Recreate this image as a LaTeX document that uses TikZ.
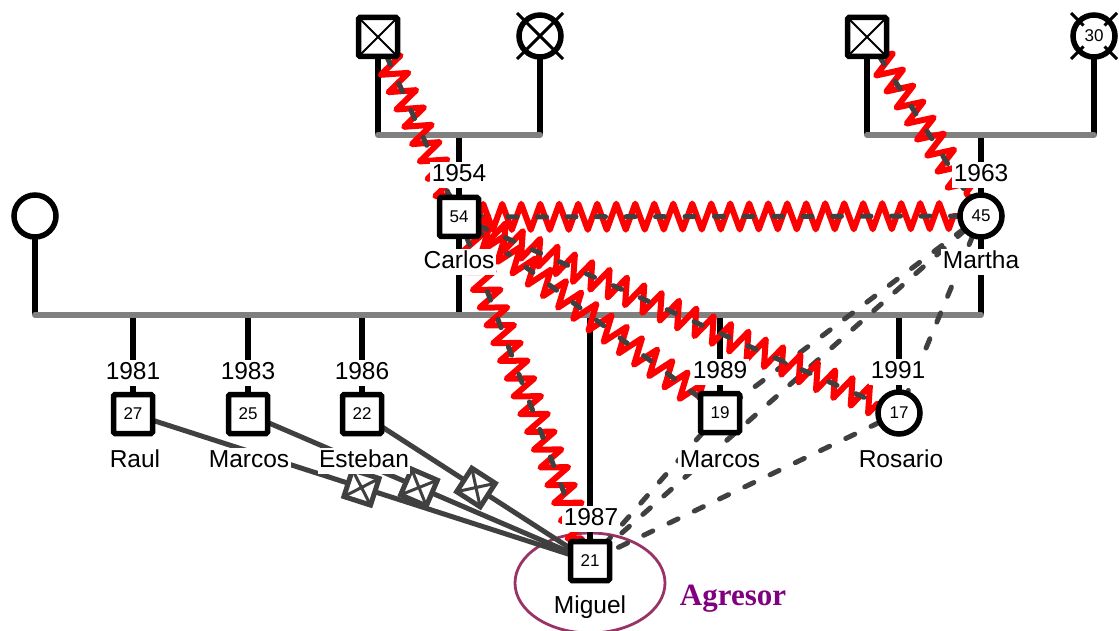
\documentclass[tikz,border=0pt]{standalone}
\usepackage{fontspec}
\setmainfont{Liberation Sans}
\newfontfamily\agrfont{Liberation Serif}
\usetikzlibrary{decorations.pathmorphing,calc}
\pgfdeclarelayer{bg}
\pgfsetlayers{bg,main}
\definecolor{genogray}{HTML}{808080}
\definecolor{relgray}{HTML}{404040}
\definecolor{hostred}{HTML}{FF0000}
\definecolor{ellcol}{HTML}{993366}
\definecolor{agrcol}{HTML}{800080}
\begin{document}
\begin{tikzpicture}[x=1pt,y=-1pt,
 male/.style={rectangle, draw=black, fill=white, line width=5.5pt, minimum size=39pt, inner sep=0pt, outer sep=0pt, rounded corners=1.5pt, font=\fontsize{17}{17}\selectfont},
 female/.style={circle, draw=black, fill=white, line width=5.5pt, minimum size=42pt, inner sep=0pt, outer sep=0pt, font=\fontsize{17}{17}\selectfont},
 lbl/.style={fill=white, inner sep=1.5pt, anchor=base, font=\fontsize{24.5}{24.5}\selectfont, text height=18pt, text depth=5pt},
 bar/.style={genogray, line width=6pt, line cap=round},
 vline/.style={black, line width=5.5pt},
 zz/.style={hostred, line width=6pt, line join=round, decorate, decoration={zigzag, segment length=19pt, amplitude=13pt}},
 zzd/.style={relgray, line width=5pt, line cap=round, dash pattern=on 9pt off 20.5pt},
 dsh/.style={relgray, line width=5pt, line cap=round, dash pattern=on 10pt off 18pt},
 cut/.style={relgray, line width=5pt},
 cutbox/.style={rectangle, draw=relgray, fill=white, line width=5pt, minimum size=28pt, inner sep=0pt, outer sep=0pt, sloped},
 thinx/.style={black, line width=2pt},
 decx/.style={black, line width=3pt}
]
\useasboundingbox (0,0) rectangle (1119,631);

% persons
\node[male] (F1) at (378,37) {};
\node[female] (GM1) at (540,36) {};
\node[male] (F2) at (867,37) {};
\node[female] (GM2) at (1094,36) {30};
\node[male] (C) at (459,217) {54};
\node[female] (Ma) at (981,216) {45};
\node[female] (W) at (35,216) {};
\node[male] (R) at (133,414) {27};
\node[male] (Mc) at (248,414) {25};
\node[male] (E) at (362,414) {22};
\node[male] (Mi) at (590,561) {21};
\node[male] (Mb) at (720,413) {19};
\node[female] (Ro) at (899,413) {17};

% deceased marks
\draw[thinx] (F1.north west) -- (F1.south east) (F1.north east) -- (F1.south west);
\draw[thinx] (F2.north west) -- (F2.south east) (F2.north east) -- (F2.south west);
\draw[decx] ($(GM1)+(-23,-23)$) -- ($(GM1)+(23,23)$) ($(GM1)+(23,-23)$) -- ($(GM1)+(-23,23)$);
\draw[decx] ($(GM2)+(-23,-23)$) -- ($(GM2)+(-10.5,-10.5)$) ($(GM2)+(23,-23)$) -- ($(GM2)+(10.5,-10.5)$)
 ($(GM2)+(-23,23)$) -- ($(GM2)+(-10.5,10.5)$) ($(GM2)+(23,23)$) -- ($(GM2)+(10.5,10.5)$);

% labels
\node[lbl] (yC) at (459,182) {1954};
\node[lbl] (nC) at (459,268) {Carlos};
\node[lbl] (yMa) at (981,182) {1963};
\node[lbl] (nMa) at (981,268) {Martha};
\node[lbl] (yR) at (133,379) {1981};
\node[lbl] (nR) at (135,467) {Raul};
\node[lbl] (yMc) at (248,379) {1983};
\node[lbl] (nMc) at (249,467) {Marcos};
\node[lbl] (yE) at (362,379) {1986};
\node[lbl] (nE) at (364,467) {Esteban};
\node[lbl] (yMi) at (591,525) {1987};
\node[lbl] (nMi) at (590,613) {Miguel};
\node[lbl] (yMb) at (720,378) {1989};
\node[lbl] (nMb) at (720,467) {Marcos};
\node[lbl] (yRo) at (898,378) {1991};
\node[lbl] (nRo) at (901,467) {Rosario};
\node[text=agrcol, font=\agrfont\bfseries\fontsize{31}{31}\selectfont, anchor=base] (agr) at (733,605) {Agresor};

% junction coordinates
\coordinate (b1L) at (378,135); \coordinate (b1R) at (540,135); \coordinate (b1C) at (459,135);
\coordinate (b2L) at (867,135); \coordinate (b2R) at (1094,135); \coordinate (b2C) at (981,135);
\coordinate (b3L) at (35,315); \coordinate (b3R) at (981,315);
\coordinate (jC) at (459,315);
\coordinate (j1) at (133,315); \coordinate (j2) at (248,315); \coordinate (j3) at (362,315);
\coordinate (j4) at (590,315); \coordinate (j5) at (720,315); \coordinate (j6) at (899,315);

\begin{pgfonlayer}{bg}
\draw[ellcol, line width=2.8pt] (590,583) ellipse [x radius=75, y radius=50];
% vertical lines
\draw[vline] (F1.center) -- (b1L);
\draw[vline] (GM1.center) -- (b1R);
\draw[vline] (b1C) -- (C.center) -- (jC);
\draw[vline] (F2.center) -- (b2L);
\draw[vline] (GM2.center) -- (b2R);
\draw[vline] (b2C) -- (Ma.center) -- (b3R);
\draw[vline] (W.center) -- (b3L);
\draw[vline] (j1) -- (R.center);
\draw[vline] (j2) -- (Mc.center);
\draw[vline] (j3) -- (E.center);
\draw[vline] (j4) -- (Mi.center);
\draw[vline] (j5) -- (Mb.center);
\draw[vline] (j6) -- (Ro.center);
% bars
\draw[bar] (b1L) -- (b1R);
\draw[bar] (b2L) -- (b2R);
\draw[bar] (b3L) -- (b3R);
% cutoff lines
\draw[cut] (R) -- node[cutbox] (k1) {} (Mi);
\draw[cut] (Mc) -- node[cutbox] (k2) {} (Mi);
\draw[cut] (E) -- node[cutbox] (k3) {} (Mi);
\foreach \k in {k1,k2,k3}
  \draw[relgray, line width=3pt] (\k.north west) -- (\k.south east) (\k.north east) -- (\k.south west);
% dashed relations
\draw[dsh] (Ma) -- (Mb);
\draw[dsh] (Ma) -- (Mi);
\draw[dsh] (Ma) -- (Ro);
\draw[dsh] (Ro) -- (Mi);
\draw[dsh] (Mb) -- (Mi);
% hostile relations
\foreach \a/\b in {F1/C, F2/Ma, C/Ma, C/Mb, C/Ro, C/Mi} {
  \draw[zz] (\a) -- (\b);
  \draw[zzd] (\a) -- (\b);
}
\end{pgfonlayer}
\end{tikzpicture}
\end{document}
